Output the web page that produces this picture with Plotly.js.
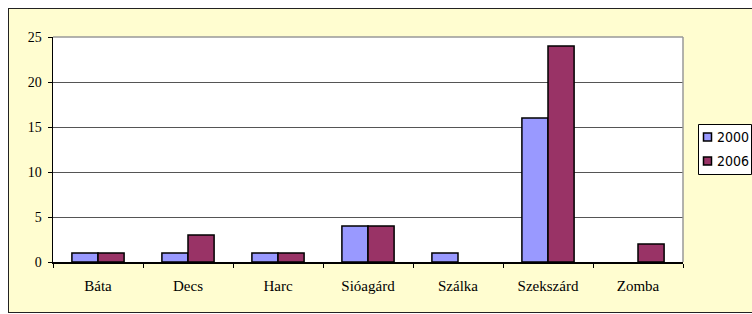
<!DOCTYPE html>
<html><head><meta charset="utf-8">
<script src="https://cdn.plot.ly/plotly-3.0.1.min.js"></script>
<style>
html,body{margin:0;padding:0;background:#fff;width:752px;height:314px;overflow:hidden;}
#frame{position:absolute;left:8px;top:8px;width:760px;height:305px;border:1.5px solid #222;background:#FFFDD0;box-sizing:border-box;}
#chart{position:absolute;left:0;top:0;width:752px;height:314px;}
</style></head>
<body>
<div id="frame"></div>
<div id="chart"></div>
<script>
const categories = ["Báta","Decs","Harc","Sióagárd","Szálka","Szekszárd","Zomba"];
const values2000 = [1,1,1,4,1,16,null];
const values2006 = [1,3,1,4,null,24,2];
const seriesNames = ["2000","2006"];
const seriesColors = ['#9999FF','#993366'];
const yTicks = [0,5,10,15,20,25];

const traces = [
  {type:'bar', name:seriesNames[0], x:categories, y:values2000,
   marker:{color:seriesColors[0], line:{color:'#000', width:1.5}}},
  {type:'bar', name:seriesNames[1], x:categories, y:values2006,
   marker:{color:seriesColors[1], line:{color:'#000', width:1.5}}}
];

// plot area: x 53..683 px, y 37..262 px
const L=53, R=683, T=37, B=262;
const px = v => (v-L)/(R-L);
const py = v => (B-v)/(B-T);
const SERIF = 'Times New Roman, serif';
const NARROW = 'DejaVu Sans Condensed, sans-serif';

const shapes = [
  {type:'line', xref:'paper', yref:'paper', x0:0, x1:1, y0:1, y1:1, line:{color:'#999', width:1.5}},
  {type:'line', xref:'paper', yref:'paper', x0:1, x1:1, y0:0, y1:1, line:{color:'#999', width:1.5}},
  {type:'rect', xref:'paper', yref:'paper', x0:px(698.5), x1:px(751.5), y0:py(124.5), y1:py(174.5),
   fillcolor:'#fff', line:{color:'#000', width:1}}
];
const annotations = [];
const legendRows = [137, 161];
seriesNames.forEach((n,i)=>{
  const cy = legendRows[i];
  shapes.push({type:'rect', xref:'paper', yref:'paper', x0:px(703.5), x1:px(711.5), y0:py(cy-4), y1:py(cy+4),
    fillcolor:seriesColors[i], line:{color:'#000', width:1.5}});
  annotations.push({xref:'paper', yref:'paper', x:px(715), y:py(cy), xanchor:'left', yanchor:'middle',
    showarrow:false, text:n, font:{family:NARROW, size:14, color:'#000'}});
});

const layout = {
  width:752, height:314,
  margin:{l:L, r:752-R, t:T, b:314-B, autoexpand:false},
  paper_bgcolor:'rgba(0,0,0,0)',
  plot_bgcolor:'#fff',
  barmode:'group', bargap:0.42, bargroupgap:0,
  font:{family:SERIF, size:14, color:'#000'},
  xaxis:{type:'category', showline:true, linecolor:'#000', linewidth:1.5, mirror:false,
    ticks:'outside', tickson:'boundaries', ticklen:4, tickcolor:'#000', tickwidth:1,
    showgrid:false, ticklabelstandoff:9, fixedrange:true,
    tickfont:{family:SERIF, size:15, color:'#000'}},
  yaxis:{range:[0,25], tickvals:yTicks, ticktext:yTicks.map(String),
    showline:true, linecolor:'#000', linewidth:1.5,
    ticks:'outside', ticklen:4, tickcolor:'#000', ticklabelstandoff:3,
    showgrid:true, gridcolor:'#555', gridwidth:1, zeroline:false, fixedrange:true,
    tickfont:{family:SERIF, size:14, color:'#000'}},
  shapes:shapes,
  annotations:annotations,
  showlegend:false
};
Plotly.newPlot('chart', traces, layout, {displayModeBar:false, staticPlot:true});
</script>
</body></html>
